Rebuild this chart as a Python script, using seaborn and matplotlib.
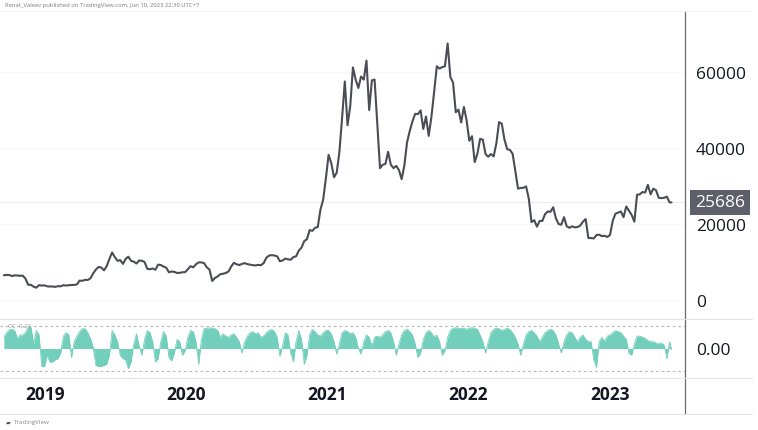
import numpy as np
import pandas as pd
import matplotlib
matplotlib.use("Agg")
import matplotlib.pyplot as plt
import seaborn as sns

# ---------------- data (weekly) ----------------
start_date = "2018-09-17"
last_date = "2023-06-10"

p2018 = [6500, 6600, 6580, 6300, 6480, 6450, 6370, 6400, 5600, 4000, 4000, 3500, 3250, 3900, 3800, 3850]
p2019 = [3600, 3550, 3560, 3450, 3650, 3600, 3900, 3800, 3900, 3950, 3980, 4100, 5100, 5050, 5300, 5280,
         5700, 7000, 8000, 8700, 8550, 7800, 8900, 10800, 12500, 11300, 10300, 10500, 9500, 10800, 11400,
         10300, 10100, 9600, 10400, 10300, 10000, 8200, 8100, 8300, 7950, 9300, 9200, 8800, 8500, 7300,
         7500, 7400, 7100, 7150, 7300, 7350]
p2020 = [8100, 8900, 8600, 9400, 9900, 9900, 9700, 8600, 8000, 5000, 5800, 6200, 6800, 6900, 7100, 7500,
         8800, 9800, 9400, 9200, 9500, 9700, 9450, 9300, 9150, 9100, 9250, 9150, 9700, 11100, 11700,
         11800, 11700, 11500, 10200, 10400, 10900, 10700, 10600, 11300, 11500, 13000, 13800, 15500,
         16000, 18400, 18200, 19000, 19200, 23800, 26400, 32000]
p2021 = [38200, 36000, 32300, 33500, 39000, 48000, 57500, 46000, 51000, 61200, 58000, 55800, 58800,
         58000, 63000, 50000, 57800, 58000, 46500, 34700, 35600, 35800, 39000, 35600, 34700, 35300,
         34200, 31800, 35400, 41500, 44500, 47000, 49000, 48900, 49900, 45000, 48300, 43200, 48200,
         54700, 61500, 60900, 61300, 61500, 67500, 58700, 57200, 49400, 50100, 46700, 50800, 47300]
p2022 = [41900, 43100, 36300, 38500, 42400, 42200, 38400, 37700, 38400, 37800, 41200, 46800, 46400,
         42200, 39700, 39500, 38500, 34000, 29300, 29500, 29500, 29900, 26600, 20500, 21000, 19300,
         20800, 20800, 22600, 23300, 23200, 24400, 21500, 20000, 19800, 21800, 19400, 19000, 19400,
         19100, 19200, 19600, 20600, 21300, 16300, 16300, 16200, 17100, 17200, 16800, 16900, 16600]
p2023 = [17100, 20800, 22700, 23000, 23300, 21800, 24600, 23500, 22400, 20600, 27700, 27800, 28400,
         28300, 30300, 27800, 29300, 28900, 26900, 26800, 26900, 27200, 25700]
last_price = 25686

cc_values = [0.5, 0.7, 0.83, 0.85, 0.8, 0.45, 0.6, 0.6, 0.7, 0.95,
             0.95, 0.2, 0.8, 0.6, -0.8, -0.8, -0.3, -0.6, -0.6, -0.5,
             -0.45, -0.2, 0.55, 0.7, 0.6, -0.4, 0.3, 0.55, 0.75, 0.88,
             0.88, 0.7, 0.45, 0.05, -0.75, -0.8, -0.8, -0.75, -0.7, -0.3,
             0.8, 0.6, 0.3, -0.3, -0.45, -0.5, -0.9, -0.6, 0.2, 0.65,
             0.1, -0.3, 0.4, 0.8, 0.7, 0.3, -0.6, -0.45, 0.3, 0.75,
             0.55, -0.4, -0.55, -0.2, 0.4, 0.3, -0.3, -0.1, 0.5, 0.8,
             0.75, 0.3, -0.7, 0.4, 0.88, 0.9, 0.92, 0.9, 0.88, 0.8,
             0.5, 0.65, 0.55, 0.5, 0.6, 0.65, 0.5, 0.3, -0.2, 0.3,
             0.55, 0.7, 0.75, 0.65, 0.7, 0.5, 0.55, 0.7, 0.8, 0.85,
             0.75, 0.5, -0.35, 0.1, 0.7, 0.6, -0.2, -0.6, 0.3, 0.8,
             0.4, -0.7, -0.3, 0.6, 0.85, 0.75, 0.6, 0.55, 0.7, 0.8,
             0.8, 0.65, 0.3, -0.25, 0.2, 0.7, 0.8, 0.75, 0.65, 0.7,
             0.5, 0.0, -0.25, 0.3, 0.6, 0.5, 0.1, 0.5, 0.55, 0.5,
             0.6, 0.75, 0.8, 0.7, 0.3, -0.3, 0.2, 0.6, 0.8, 0.85,
             0.75, 0.6, 0.2, -0.4, -0.2, 0.4, 0.7, 0.8, 0.7, 0.5,
             0.6, 0.3, -0.3, -0.1, 0.5, 0.8, 0.9, 0.92, 0.9, 0.88,
             0.9, 0.85, 0.9, 0.92, 0.9, 0.85, 0.6, 0.3, -0.2, 0.3,
             0.7, 0.85, 0.9, 0.88, 0.8, 0.85, 0.9, 0.85, 0.7, 0.5,
             0.2, -0.3, 0.2, 0.6, 0.75, 0.8, 0.7, 0.55, 0.3, 0.5,
             0.7, 0.8, 0.85, 0.8, 0.6, 0.2, -0.2, 0.3, 0.6, 0.75,
             0.7, 0.5, 0.3, 0.5, 0.6, 0.4, 0.3, 0.3, -0.5, -0.85,
             0.3, 0.5, 0.3, 0.55, 0.6, 0.7, 0.8, 0.75, 0.7, 0.55,
             0.4, -0.2, -0.3, 0.2, 0.55, 0.55, 0.5, 0.45, 0.35, 0.3,
             0.3, 0.25, 0.2, 0.25, 0.15, -0.45, 0.3,
             -0.05]

price_ticks = [0, 20000, 40000, 60000]
year_ticks = ["2019", "2020", "2021", "2022", "2023"]

# ---------------- build frames ----------------
weekly = p2018 + p2019 + p2020 + p2021 + p2022 + p2023
dates = list(pd.date_range(start_date, periods=len(weekly), freq="7D")) + [pd.Timestamp(last_date)]
df = pd.DataFrame({"date": dates, "price": weekly + [last_price], "cc": cc_values})

# ---------------- style ----------------
sns.set_theme(style="white")
plt.rcParams["font.family"] = ["Open Sans", "DejaVu Sans"]

W, H = 758, 431
fig = plt.figure(figsize=(W / 100, H / 100), dpi=100)
fig.patch.set_facecolor("white")

def fx(px):
    return px / W

def fy(py):
    return 1 - py / H

ax_right = 685
top_y, split_y, low_bot, time_bot = 12, 320, 379, 415

ax = fig.add_axes([0, fy(split_y), fx(ax_right), fy(top_y) - fy(split_y)])
ax2 = fig.add_axes([0, fy(low_bot), fx(ax_right), fy(split_y) - fy(low_bot)], sharex=ax)

line_col = "#4b4d56"
teal = "#72cfbc"

# price line
sns.lineplot(data=df, x="date", y="price", ax=ax, color=line_col, linewidth=1.5)
ax.axhline(last_price, color="#ececec", linewidth=0.8, zorder=0)
for t in price_ticks:
    ax.axhline(t, color="#f8f8f8", linewidth=0.8, zorder=0)

xmin = pd.Timestamp("2018-09-07")
xmax = pd.Timestamp("2023-07-15")
ax.set_xlim(xmin, xmax)
ax.set_ylim(-5000, 76050)

ax.yaxis.tick_right()
ax.set_yticks(price_ticks)
ax.set_yticklabels([str(t) for t in price_ticks], fontsize=12.5, color="#131722", ha="left")
ax.tick_params(axis="y", length=0, pad=8)
ax.tick_params(axis="x", length=0, labelbottom=False)
ax.set_xlabel("")
ax.set_ylabel("")
for s in ax.spines.values():
    s.set_visible(False)

# oscillator pane
sns.lineplot(data=df, x="date", y="cc", ax=ax2, color=teal, linewidth=0.6)
ax2.fill_between(df["date"], df["cc"], 0, color=teal, linewidth=0, interpolate=True)
for lvl in (1, -1):
    ax2.axhline(lvl, color="#b8b8b8", linewidth=0.8, linestyle=(0, (2.5, 2.5)))
ax2.set_ylim(-1.31, 1.31)
ax2.yaxis.tick_right()
ax2.set_yticks([0])
ax2.set_yticklabels(["0.00"], fontsize=12.5, color="#131722", ha="left")
ax2.tick_params(axis="y", length=0, pad=8)
ax2.set_xlabel("")
ax2.set_ylabel("")
ax2.set_xlim(xmin, xmax)
ax2.set_xticks([pd.Timestamp(y + "-01-01") for y in year_ticks])
ax2.set_xticklabels(year_ticks, fontsize=12.5, fontweight="bold", color="#131722")
ax2.tick_params(axis="x", length=0, pad=5)
for s in ax2.spines.values():
    s.set_visible(False)
ax2.text(0.012, 0.93, "CC  0.21", transform=ax2.transAxes, fontsize=4.5, color="#9a9a9a",
         va="top", ha="left")

# separators / frame lines
frame_light = "#e3e3e3"
fig.add_artist(plt.Line2D([fx(ax_right), fx(ax_right)], [fy(top_y), fy(time_bot)],
                          color="#6a6a6a", linewidth=0.9))
fig.add_artist(plt.Line2D([0, fx(752)], [fy(split_y), fy(split_y)], color=frame_light, linewidth=0.8))
fig.add_artist(plt.Line2D([0, fx(752)], [fy(low_bot), fy(low_bot)], color=frame_light, linewidth=0.8))
fig.add_artist(plt.Line2D([0, fx(752)], [fy(time_bot), fy(time_bot)], color=frame_light, linewidth=0.8))
fig.add_artist(plt.Line2D([0, fx(752)], [fy(top_y), fy(top_y)], color="#f0f0f0", linewidth=0.8))

# last price label box
ax.annotate(f"{last_price}", xy=(1.0, last_price), xycoords=("axes fraction", "data"),
            xytext=(fx(720), 0), textcoords=("figure fraction", "offset points"),
            ha="center", va="center", fontsize=12.5, color="white",
            bbox=dict(boxstyle="square,pad=0.28", facecolor="#5d606b", edgecolor="none"))

# header / footer texts
fig.text(fx(5), fy(6), "Renat_Valeev published on TradingView.com, Jun 10, 2023 22:30 UTC+7",
         fontsize=4.2, color="#7a7a7a", ha="left", va="center")
fig.text(fx(6), fy(423), "\u25B0", fontsize=4.5, color="#555555", ha="left", va="center")
fig.text(fx(14), fy(423), "TradingView", fontsize=4.5, color="#8a8a8a", ha="left", va="center")

fig.savefig("out.png", dpi=100, facecolor="white")
